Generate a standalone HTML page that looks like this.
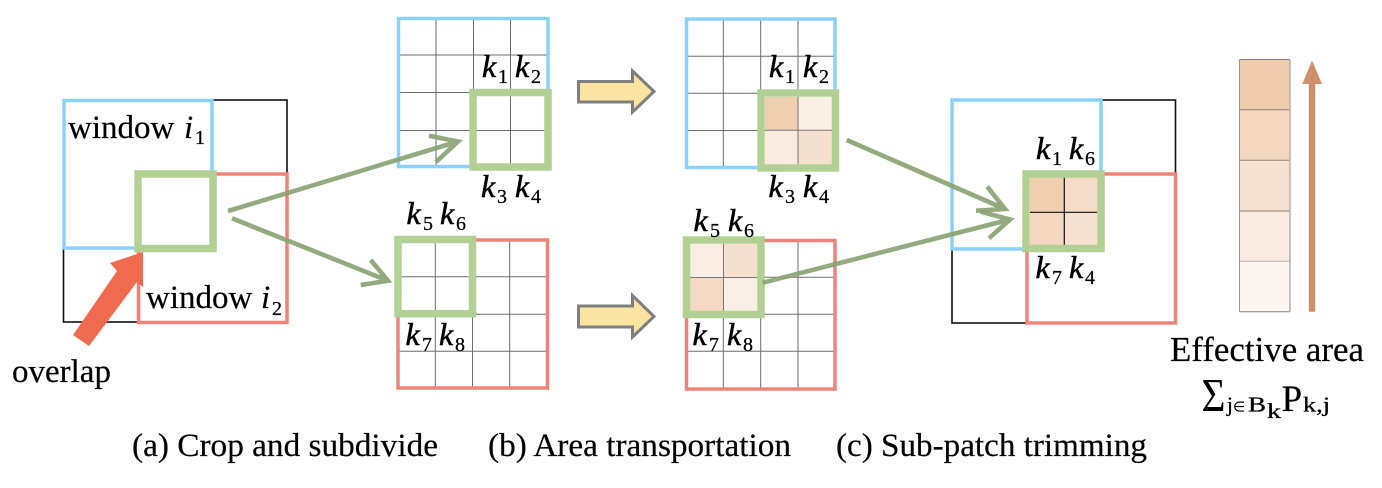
<!DOCTYPE html>
<html>
<head>
<meta charset="utf-8">
<style>
html,body{margin:0;padding:0;background:#fff;width:1382px;height:488px;overflow:hidden}
svg{display:block}
text{font-family:"Liberation Serif",serif;fill:#000}
.t{font-size:33px;stroke:#000;stroke-width:.2}
.k{font-style:italic;font-size:32px;stroke:#000;stroke-width:.55}
.s{font-size:20px;stroke:#000;stroke-width:.25}
.f{font-size:21px;stroke:#000;stroke-width:.3}
.g{stroke:#555;stroke-width:1;fill:none;opacity:.85}
.blue{fill:none;stroke:#8bd1fa;stroke-width:3.5}
.red{fill:none;stroke:#f08379;stroke-width:3.5}
.grn{fill:none;stroke:#b2d093;stroke-width:7.5}
.blk{fill:none;stroke:#111;stroke-width:1.6}
.ar{fill:none;stroke:#86a170;stroke-width:4.6;opacity:.9}
.yel{fill:#fbe3a0;stroke:#7f7f7f;stroke-width:3}
</style>
</head>
<body>
<svg width="1382" height="488" viewBox="0 0 1382 488" xmlns="http://www.w3.org/2000/svg">
<!-- Panel (a) left -->
<rect class="blk" x="63.5" y="100" width="223.5" height="222"/>
<rect class="blue" x="64" y="100.5" width="148" height="147.5"/>
<rect class="red" x="138.5" y="174" width="148.5" height="148.5"/>
<rect class="grn" x="138" y="174" width="75" height="74.5"/>
<polygon points="143,252 110,263 117,271 73,335 89,346 137,282 143,287" fill="#ef6a4e"/>
<text class="t" x="68" y="138">window</text>
<text class="t" x="184" y="138" font-style="italic">i</text>
<text class="s" x="195" y="144">1</text>
<text class="t" x="146" y="308">window</text>
<text class="t" x="261" y="308" font-style="italic">i</text>
<text class="s" x="272" y="315">2</text>
<text class="t" x="12" y="382">overlap</text>

<!-- Grid top b1 -->
<g class="g"><path d="M436 18V167M473.5 18V167M510.5 18V167M398 55H548M398 92.5H548M398 130.5H548"/></g>
<rect class="blue" x="398.5" y="18.5" width="149.5" height="148"/>
<rect class="grn" x="473" y="92.5" width="75" height="74.5"/>
<!-- Grid bottom b1 -->
<g class="g"><path d="M435.3 240V388M472.5 240V388M509.7 240V388M398 276.7H548M398 314.3H548M398 351.3H548"/></g>
<rect class="red" x="398" y="240" width="149.5" height="148"/>
<rect class="grn" x="398" y="239.5" width="74.5" height="74.2"/>

<!-- Connectors a->b -->
<path class="ar" d="M228 211L458 141.500M429 135.700L458 141.500L436 162"/>
<path class="ar" d="M232 218.300L388 280.700M370.700 260L388 280.700L360.700 285"/>

<!-- Yellow arrows -->
<polygon class="yel" points="578.500,81.500 632.500,81.500 632.500,71 654,91.500 632.500,112 632.500,102 578.500,102"/>
<polygon class="yel" points="578.500,306 632.500,306 632.500,295.500 654,316.500 632.500,337 632.500,327 578.500,327"/>

<!-- Grid top b2 -->
<g class="g"><path d="M723.300 19V167M760.700 19V167M798 19V167M686 56.300H835M686 93.300H835M686 130.500H835"/></g>
<rect class="blue" x="686.500" y="19" width="148.500" height="148.500"/>
<rect x="765" y="97" width="33" height="33.300" fill="#f0ceb0"/>
<rect x="798" y="97" width="34" height="33.300" fill="#f9efe5"/>
<rect x="765" y="130.300" width="33" height="34" fill="#f9ebe0"/>
<rect x="798" y="130.300" width="34" height="34" fill="#f5e0cf"/>
<path d="M761 130.300H835M798 97V164" stroke="#777" stroke-width="1" fill="none"/>
<rect class="grn" x="761" y="93" width="74.500" height="75"/>
<!-- Grid bottom b2 -->
<g class="g"><path d="M723.300 240V389M760.700 240V389M798 240V389M686 277.300H835M686 314.300H835M686 351.300H835"/></g>
<rect class="red" x="686.500" y="240.500" width="148.500" height="148.500"/>
<rect x="690" y="244" width="33.500" height="33.500" fill="#f9ece2"/>
<rect x="723.500" y="244" width="34" height="33.500" fill="#f5dfcf"/>
<rect x="690" y="277.500" width="33.500" height="33.500" fill="#f3d8c3"/>
<rect x="723.500" y="277.500" width="34" height="33.500" fill="#f9efe6"/>
<path d="M690 277.500H757.500M723.500 244V311" stroke="#777" stroke-width="1" fill="none"/>
<rect class="grn" x="686.500" y="240" width="74.500" height="74.500"/>

<!-- Panel (c) -->
<rect class="blk" x="952" y="100" width="223.500" height="223"/>
<rect class="blue" x="952" y="100" width="149" height="149"/>
<rect class="red" x="1027" y="174" width="148.500" height="149"/>
<rect x="1030" y="177.500" width="34.300" height="34.800" fill="#f0ceb0"/>
<rect x="1064.300" y="177.500" width="33" height="34.800" fill="#f5dcc8"/>
<rect x="1030" y="212.300" width="34.300" height="33" fill="#f3d7c1"/>
<rect x="1064.300" y="212.300" width="33" height="33" fill="#f6e0cf"/>
<path d="M1030 212.300H1097.300M1064.300 177.500V245.300" stroke="#111" stroke-width="1.200" fill="none"/>
<rect class="grn" x="1026" y="174" width="75" height="74.500"/>

<!-- Connectors b->c -->
<path class="ar" d="M846.700 140L1005 209M987.300 186.700L1005 209L976 210.700"/>
<path class="ar" d="M762.700 282.700L1010 219.500M980.700 211.700L1010 219.500L989 238.300"/>

<!-- Colour bar -->
<rect x="1239.500" y="59.500" width="50.500" height="50.300" fill="#f0ccae"/>
<rect x="1239.500" y="109.800" width="50.500" height="50.500" fill="#f3d7c1"/>
<rect x="1239.500" y="160.300" width="50.500" height="50.700" fill="#f6e1d0"/>
<rect x="1239.500" y="211" width="50.500" height="50.300" fill="#f9ebe0"/>
<rect x="1239.500" y="261.300" width="50.500" height="50.400" fill="#fdf5ef"/>
<path d="M1239.500 59.500H1290M1239.500 109.800H1290M1239.500 160.300H1290M1239.500 211H1290M1239.500 311.700H1290" stroke="#8a8078" stroke-width="1" fill="none"/>
<path d="M1239.500 261.300H1290" stroke="#bdb2aa" stroke-width="1"/>
<path d="M1239.500 59.500V311.700" stroke="#a09890" stroke-width="1"/>
<path d="M1290 59.500V311.700" stroke="#b5b0ac" stroke-width="1.500"/>
<polygon points="1312,60.500 1322,84 1315.200,84 1315.200,311.700 1308.800,311.700 1308.800,84 1302.300,84" fill="#ce9068"/>

<!-- k labels panel b1 -->
<text class="k" x="482" y="77">k</text><text class="s" x="498" y="83">1</text>
<text class="k" x="515" y="77">k</text><text class="s" x="531" y="83">2</text>
<text class="k" x="481" y="197">k</text><text class="s" x="497" y="203">3</text>
<text class="k" x="515" y="197">k</text><text class="s" x="531" y="203">4</text>
<text class="k" x="406.500" y="224">k</text><text class="s" x="423" y="230">5</text>
<text class="k" x="440" y="224">k</text><text class="s" x="456" y="230">6</text>
<text class="k" x="405.500" y="345">k</text><text class="s" x="422" y="351">7</text>
<text class="k" x="439" y="345">k</text><text class="s" x="455" y="351">8</text>
<!-- k labels panel b2 -->
<text class="k" x="769" y="77">k</text><text class="s" x="785" y="83">1</text>
<text class="k" x="803" y="77">k</text><text class="s" x="819" y="83">2</text>
<text class="k" x="768.500" y="197">k</text><text class="s" x="785" y="203">3</text>
<text class="k" x="803" y="197">k</text><text class="s" x="819" y="203">4</text>
<text class="k" x="693.500" y="231">k</text><text class="s" x="710" y="237">5</text>
<text class="k" x="728" y="231">k</text><text class="s" x="744" y="237">6</text>
<text class="k" x="692.500" y="345">k</text><text class="s" x="709" y="351">7</text>
<text class="k" x="727" y="345">k</text><text class="s" x="743" y="351">8</text>
<!-- k labels panel c -->
<text class="k" x="1036" y="159">k</text><text class="s" x="1052" y="165">1</text>
<text class="k" x="1069" y="159">k</text><text class="s" x="1085" y="165">6</text>
<text class="k" x="1035.500" y="278">k</text><text class="s" x="1052" y="284">7</text>
<text class="k" x="1069" y="278">k</text><text class="s" x="1085" y="284">4</text>

<!-- Effective area -->
<text class="t" x="1170" y="361" style="font-size:35px" textLength="194" lengthAdjust="spacingAndGlyphs">Effective area</text>
<text x="1201.500" y="411.500" style="font-size:48px" textLength="24" lengthAdjust="spacingAndGlyphs">&#931;</text>
<text class="f" x="1227" y="411.700">j</text>
<text class="f" x="1233" y="411.700" style="font-family:'DejaVu Sans',sans-serif;font-size:14px;stroke-width:.1">&#8712;</text>
<text class="f" x="1248" y="411.700" textLength="18" lengthAdjust="spacingAndGlyphs">B</text>
<text class="f" x="1267" y="418" textLength="14" lengthAdjust="spacingAndGlyphs">k</text>
<text class="t" x="1281.500" y="411" style="font-size:37px">P</text>
<text class="f" x="1303" y="411.700" textLength="27" lengthAdjust="spacingAndGlyphs">k,j</text>

<!-- Captions -->
<text class="t" x="132" y="456" textLength="306" lengthAdjust="spacingAndGlyphs">(a) Crop and subdivide</text>
<text class="t" x="488" y="456" textLength="303" lengthAdjust="spacingAndGlyphs">(b) Area transportation</text>
<text class="t" x="836" y="456" textLength="311" lengthAdjust="spacingAndGlyphs">(c) Sub-patch trimming</text>
</svg>
</body>
</html>
